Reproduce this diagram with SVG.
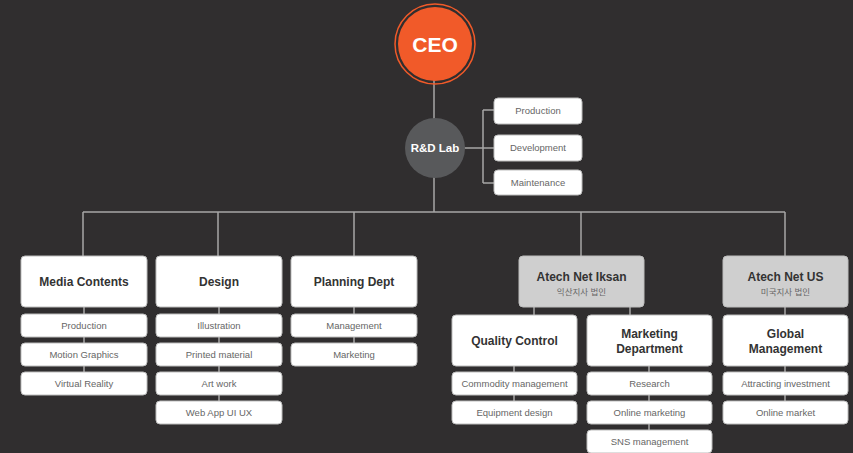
<svg xmlns="http://www.w3.org/2000/svg" width="853" height="453" viewBox="0 0 853 453">
<style>
.bg{fill:#302e2f}
.ln{stroke:#a7a7a7;stroke-width:1.5;fill:none}
.box{fill:#ffffff;stroke:#bdbdbd;stroke-width:1}
.gbox{fill:#cfcfcf;stroke:#bdbdbd;stroke-width:1}
.t{font-family:"Liberation Sans",Arial,sans-serif;font-weight:bold;font-size:12px;fill:#333333;text-anchor:middle}
.s{font-family:"Liberation Sans",Arial,sans-serif;font-size:9.5px;fill:#666666;text-anchor:middle}
.k{font-family:"Liberation Sans","Noto Sans CJK KR",sans-serif;font-size:8.5px;fill:#666666;text-anchor:middle}
</style>
<rect class="bg" x="0" y="0" width="853" height="453"/>
<g id="connectors">
<path class="ln" d="M434 80V212"/>
<path class="ln" d="M83 212H785"/>
<path class="ln" d="M83 212V256M218 212V256M354 212V256M581 212V256M785 212V256"/>
<path class="ln" d="M464 148H483M483 110V183M483 110H494M483 148H494M483 183H494"/>
<path class="ln" d="M84 307V372M219 307V401M354 307V343"/>
<path class="ln" d="M534 307V315M630 307V315"/>
<path class="ln" d="M514 366V401M649 366V430M785 307V315M785 366V401"/>
</g>
<g id="ceo">
<circle cx="435" cy="44" r="40" fill="none" stroke="#f15a29" stroke-width="1.5"/>
<circle cx="435" cy="44" r="37" fill="#f15a29"/>
<text x="435" y="52" font-family="Liberation Sans,Arial,sans-serif" font-weight="bold" font-size="21" fill="#ffffff" text-anchor="middle">CEO</text>
</g>
<g id="rnd">
<circle cx="435" cy="148" r="30" fill="#58595b"/>
<text x="435" y="152" font-family="Liberation Sans,Arial,sans-serif" font-weight="bold" font-size="11.5" fill="#ffffff" text-anchor="middle">R&amp;D Lab</text>
</g>
<g id="rnd-production"><rect class="box" x="494" y="98" width="88" height="26" rx="4"/><text class="s" x="538" y="114">Production</text></g>
<g id="rnd-development"><rect class="box" x="494" y="135" width="88" height="26" rx="4"/><text class="s" x="538" y="151">Development</text></g>
<g id="rnd-maintenance"><rect class="box" x="494" y="170" width="88" height="25" rx="4"/><text class="s" x="538" y="186">Maintenance</text></g>

<g id="media"><rect class="box" x="21" y="256" width="126" height="51" rx="4"/><text class="t" x="84" y="286">Media Contents</text></g>
<g id="media-1"><rect class="box" x="21" y="314" width="126" height="23" rx="4"/><text class="s" x="84" y="329">Production</text></g>
<g id="media-2"><rect class="box" x="21" y="343" width="126" height="23" rx="4"/><text class="s" x="84" y="358">Motion Graphics</text></g>
<g id="media-3"><rect class="box" x="21" y="372" width="126" height="23" rx="4"/><text class="s" x="84" y="387">Virtual Reality</text></g>

<g id="design"><rect class="box" x="156" y="256" width="126" height="51" rx="4"/><text class="t" x="219" y="286">Design</text></g>
<g id="design-1"><rect class="box" x="156" y="314" width="126" height="23" rx="4"/><text class="s" x="219" y="329">Illustration</text></g>
<g id="design-2"><rect class="box" x="156" y="343" width="126" height="23" rx="4"/><text class="s" x="219" y="358">Printed material</text></g>
<g id="design-3"><rect class="box" x="156" y="372" width="126" height="23" rx="4"/><text class="s" x="219" y="387">Art work</text></g>
<g id="design-4"><rect class="box" x="156" y="401" width="126" height="23" rx="4"/><text class="s" x="219" y="416">Web App UI UX</text></g>

<g id="planning"><rect class="box" x="291" y="256" width="126" height="51" rx="4"/><text class="t" x="354" y="286">Planning Dept</text></g>
<g id="planning-1"><rect class="box" x="291" y="314" width="126" height="23" rx="4"/><text class="s" x="354" y="329">Management</text></g>
<g id="planning-2"><rect class="box" x="291" y="343" width="126" height="23" rx="4"/><text class="s" x="354" y="358">Marketing</text></g>

<g id="iksan"><rect class="gbox" x="519" y="256" width="125" height="51" rx="4"/><text class="t" x="581.5" y="281">Atech Net Iksan</text><text class="k" x="581.5" y="295">익산지사 법인</text></g>
<g id="quality"><rect class="box" x="452" y="315" width="125" height="51" rx="4"/><text class="t" x="514.5" y="345">Quality Control</text></g>
<g id="quality-1"><rect class="box" x="452" y="372" width="125" height="23" rx="4"/><text class="s" x="514.5" y="387">Commodity management</text></g>
<g id="quality-2"><rect class="box" x="452" y="401" width="125" height="23" rx="4"/><text class="s" x="514.5" y="416">Equipment design</text></g>
<g id="marketing"><rect class="box" x="587" y="315" width="125" height="51" rx="4"/><text class="t" x="649.5" y="338">Marketing</text><text class="t" x="649.5" y="353">Department</text></g>
<g id="marketing-1"><rect class="box" x="587" y="372" width="125" height="23" rx="4"/><text class="s" x="649.5" y="387">Research</text></g>
<g id="marketing-2"><rect class="box" x="587" y="401" width="125" height="23" rx="4"/><text class="s" x="649.5" y="416">Online marketing</text></g>
<g id="marketing-3"><rect class="box" x="587" y="430" width="125" height="23" rx="4"/><text class="s" x="649.5" y="445">SNS management</text></g>

<g id="us"><rect class="gbox" x="723" y="256" width="125" height="51" rx="4"/><text class="t" x="785.5" y="281">Atech Net US</text><text class="k" x="785.5" y="295">미국지사 법인</text></g>
<g id="global"><rect class="box" x="723" y="315" width="125" height="51" rx="4"/><text class="t" x="785.5" y="338">Global</text><text class="t" x="785.5" y="353">Management</text></g>
<g id="global-1"><rect class="box" x="723" y="372" width="125" height="23" rx="4"/><text class="s" x="785.5" y="387">Attracting investment</text></g>
<g id="global-2"><rect class="box" x="723" y="401" width="125" height="23" rx="4"/><text class="s" x="785.5" y="416">Online market</text></g>
</svg>
